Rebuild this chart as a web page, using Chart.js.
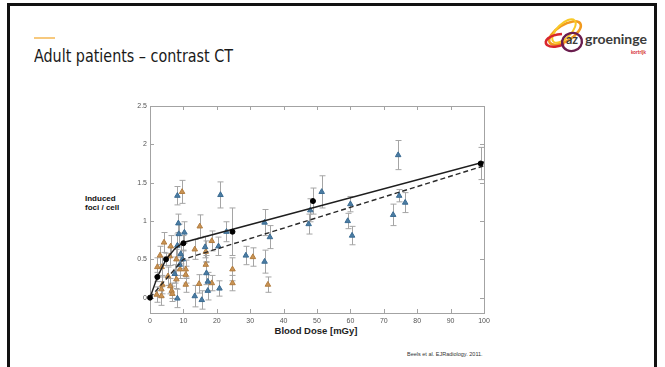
<!DOCTYPE html>
<html>
<head>
<meta charset="utf-8">
<script src="https://cdn.jsdelivr.net/npm/chart.js@4/dist/chart.umd.min.js"></script>
<style>
  html, body { margin: 0; padding: 0; background: #fff; overflow: hidden; }
  body { width: 665px; height: 367px; position: relative; }
  .slide { position: absolute; left: 7px; top: 3px; width: 650px; height: 420px; border: 3px solid #111; box-sizing: border-box; }
  .accent { position: absolute; left: 34px; top: 37px; width: 21px; height: 2px; background: #f7c97e; }
  .title { position: absolute; left: 34px; top: 47.6px; font: 17px/17px "DejaVu Sans Condensed", "DejaVu Sans", sans-serif; color: #1a1a1a; white-space: nowrap; transform-origin: 0 0; }
  .logo { position: absolute; left: 540px; top: 15px; }
  .ylabel { position: absolute; left: 85px; top: 195px; font: bold 8px/8.5px "Liberation Sans", Arial, sans-serif; color: #111; }
  .xlabel { position: absolute; left: 266px; width: 100px; top: 325px; text-align: center; font: bold 9.5px/11px "Liberation Sans", Arial, sans-serif; color: #222; }
  .cite { position: absolute; left: 407px; top: 351px; font: 5.5px/7px "Liberation Sans", Arial, sans-serif; color: #333; white-space: nowrap; }
  canvas { position: absolute; left: 0; top: 0; }
</style>
</head>
<body>
<div class="slide"></div>
<div class="accent"></div>
<div class="title" id="title">Adult patients – contrast CT</div>
<svg class="logo" width="115" height="50" viewBox="0 0 115 50">
  <ellipse cx="25" cy="18" rx="18" ry="8" transform="rotate(-32 25 18)" fill="none" stroke="#f29a1e" stroke-width="2.6"/>
  <ellipse cx="24" cy="16" rx="15" ry="7" transform="rotate(-45 24 16)" fill="none" stroke="#f8c928" stroke-width="2"/>
  <path d="M22 19 C 9 20, 3 26, 7 30 C 11 33, 19 32, 24 29" fill="none" stroke="#d8262d" stroke-width="2.6"/>
  <ellipse cx="32" cy="27" rx="10" ry="9" transform="rotate(-15 32 27)" fill="none" stroke="#6a1d4e" stroke-width="2.4"/>
  <text x="26" y="29" textLength="12" lengthAdjust="spacingAndGlyphs" font-family="Lato, 'Open Sans', sans-serif" font-weight="bold" font-size="13" fill="#3b3b3b">az</text>
  <text x="45" y="29" textLength="62" lengthAdjust="spacingAndGlyphs" font-family="Lato, 'Open Sans', sans-serif" font-weight="bold" font-size="13" fill="#3b3b3b">groeninge</text>
  <text x="91" y="38.5" textLength="15" lengthAdjust="spacingAndGlyphs" font-family="Lato, 'Open Sans', sans-serif" font-weight="bold" font-size="5.5" fill="#d3232b">kortrijk</text>
</svg>
<div class="ylabel">Induced<br>foci / cell</div>
<div class="xlabel">Blood Dose [mGy]</div>
<div class="cite">Beels et al. EJRadiology. 2011.</div>
<canvas id="myChart" width="665" height="367"></canvas>
<script>
// blue triangles (group 1)
const blueDose = [8.2, 8.5, 8.6, 10.3, 8.2, 9.2, 9.8, 8.9, 7.4, 8.2, 13.4, 15.5, 16.9, 16.5, 17.3, 17.3, 20.8, 21.1, 22.9, 20.5, 28.7, 34.3, 34.3, 35.9, 47.5, 48.0, 51.4, 59.2, 60.0, 60.5, 72.8, 74.3, 74.6, 76.4];
const blueFoci = [1.33, 0.97, 0.83, 0.85, 0.68, 0.57, 0.50, 0.43, 0.31, -0.01, 0.02, -0.03, 0.32, 0.66, 0.21, 0.09, 0.12, 1.34, 0.86, 0.67, 0.55, 0.98, 0.47, 0.79, 0.96, 1.14, 1.38, 1.00, 1.22, 0.81, 1.08, 1.86, 1.33, 1.24];
const blueErr  = [0.12, 0.12, 0.13, 0.14, 0.15, 0.13, 0.12, 0.14, 0.12, 0.12, 0.14, 0.12, 0.15, 0.14, 0.12, 0.12, 0.10, 0.17, 0.13, 0.12, 0.12, 0.17, 0.15, 0.15, 0.13, 0.15, 0.21, 0.10, 0.10, 0.12, 0.14, 0.19, 0.08, 0.13];

// orange triangles (group 2)
const orangeDose = [9.6, 4.2, 3.0, 2.2, 3.5, 2.0, 3.4, 3.7, 3.4, 5.9, 6.2, 5.4, 6.1, 6.5, 6.7, 7.9, 7.9, 9.0, 10.7, 10.7, 10.7, 13.4, 14.9, 14.7, 16.7, 16.7, 18.5, 18.5, 24.7, 24.7, 30.8, 35.3];
const orangeFoci = [1.38, 0.72, 0.55, 0.40, 0.40, 0.04, 0.02, 0.17, 0.11, 0.54, 0.67, 0.28, 0.15, 0.09, 0.05, 0.50, 0.24, 0.37, 0.37, 0.30, 0.17, 0.63, 0.93, 0.18, 0.60, 0.43, 0.74, 0.19, 0.19, 0.37, 0.53, 0.17];
const orangeErr  = [0.15, 0.13, 0.12, 0.12, 0.13, 0.10, 0.12, 0.12, 0.10, 0.12, 0.14, 0.12, 0.10, 0.10, 0.10, 0.13, 0.12, 0.12, 0.12, 0.11, 0.10, 0.13, 0.15, 0.12, 0.14, 0.12, 0.13, 0.10, 0.10, 0.15, 0.12, 0.10];

// in vitro calibration points
const meanDose = [0, 2.2, 4.8, 10, 24.7, 48.8, 99];
const meanFoci = [0, 0.27, 0.50, 0.71, 0.86, 1.26, 1.75];
const meanErr  = [0, 0.06, 0.08, 0.10, 0.31, 0.17, 0.21];

// fitted curves
const solidDose = [0, 2.2, 4.8, 7.5, 10, 100];
const solidFoci = [0, 0.27, 0.50, 0.64, 0.72, 1.77];
const dashDose = [0, 10, 100];
const dashFoci = [0, 0.50, 1.72];

const yTicks = [0, 0.5, 1, 1.5, 2, 2.5];

const pts = (xs, ys) => xs.map((v, i) => ({ x: v, y: ys[i] }));

// scale the title to its box width
const t = document.getElementById("title");
t.style.transform = "scaleX(" + (199 / t.getBoundingClientRect().width) + ")";

// frame with inward ticks + vertical error bars, drawn under the marks
const frameAndErrors = {
  id: "frameAndErrors",
  beforeDatasetsDraw(chart) {
    const { ctx, chartArea: a, scales: { x, y } } = chart;
    ctx.save();
    ctx.strokeStyle = "#a3a3a3";
    ctx.lineWidth = 1;
    ctx.strokeRect(Math.round(a.left) + 0.5, Math.round(a.top) + 0.5, Math.round(a.width), Math.round(a.height));
    ctx.beginPath();
    x.ticks.forEach((tk) => {
      const px = Math.round(x.getPixelForValue(tk.value)) + 0.5;
      ctx.moveTo(px, a.bottom); ctx.lineTo(px, a.bottom - 4);
      ctx.moveTo(px, a.top); ctx.lineTo(px, a.top + 4);
    });
    y.ticks.forEach((tk) => {
      const py = Math.round(y.getPixelForValue(tk.value)) + 0.5;
      ctx.moveTo(a.left, py); ctx.lineTo(a.left + 4, py);
      ctx.moveTo(a.right, py); ctx.lineTo(a.right - 4, py);
    });
    ctx.stroke();

    ctx.strokeStyle = "#a5a5a5";
    ctx.beginPath();
    chart.data.datasets.forEach((ds) => {
      if (!ds.errors) return;
      ds.data.forEach((p, j) => {
        const e = ds.errors[j];
        if (!e) return;
        const px = Math.round(x.getPixelForValue(p.x)) + 0.5;
        const top = y.getPixelForValue(p.y + e);
        const bot = y.getPixelForValue(p.y - e);
        ctx.moveTo(px, top); ctx.lineTo(px, bot);
        ctx.moveTo(px - 3, top); ctx.lineTo(px + 3, top);
        ctx.moveTo(px - 3, bot); ctx.lineTo(px + 3, bot);
      });
    });
    ctx.stroke();
    ctx.restore();
  },
};

const tickFont = { family: "Liberation Sans", size: 7 };

new Chart(document.getElementById("myChart"), {
  type: "scatter",
  data: {
    datasets: [
      {
        label: "calibration",
        data: pts(meanDose, meanFoci),
        errors: meanErr,
        pointStyle: "circle",
        pointRadius: 2.5,
        backgroundColor: "#000",
        borderColor: "#000",
        order: 0,
        clip: false,
      },
      {
        label: "fit 1",
        data: pts(solidDose, solidFoci),
        showLine: true,
        pointRadius: 0,
        borderColor: "#1e1e1e",
        borderWidth: 1.4,
        order: 1,
      },
      {
        label: "fit 2",
        data: pts(dashDose, dashFoci),
        showLine: true,
        pointRadius: 0,
        borderColor: "#2a2a2a",
        borderWidth: 1.4,
        borderDash: [5, 3],
        order: 1,
      },
      {
        label: "group 1",
        data: pts(blueDose, blueFoci),
        errors: blueErr,
        pointStyle: "triangle",
        pointRadius: 3.2,
        backgroundColor: "#4a7ca3",
        borderColor: "#3a6b92",
        borderWidth: 1,
        order: 2,
      },
      {
        label: "group 2",
        data: pts(orangeDose, orangeFoci),
        errors: orangeErr,
        pointStyle: "triangle",
        pointRadius: 3.2,
        backgroundColor: "#c99353",
        borderColor: "#b27d40",
        borderWidth: 1,
        order: 3,
      },
    ],
  },
  options: {
    responsive: false,
    animation: false,
    devicePixelRatio: 1,
    layout: { padding: { left: 110, top: 106, right: 181, bottom: 24 } },
    plugins: { legend: { display: false }, tooltip: { enabled: false } },
    scales: {
      x: {
        type: "linear",
        min: 0,
        max: 100,
        grid: { display: false, drawTicks: false },
        border: { display: false },
        ticks: { stepSize: 10, font: tickFont, color: "#555", padding: 4, maxRotation: 0 },
        afterFit: (s) => { s.height = 30; },
      },
      y: {
        type: "linear",
        min: -0.2,
        max: 2.5,
        grid: { display: false, drawTicks: false },
        border: { display: false },
        ticks: { font: tickFont, color: "#555", padding: 3, callback: (v) => String(v) },
        afterBuildTicks: (s) => { s.ticks = yTicks.map((v) => ({ value: v })); },
        afterFit: (s) => { s.width = 40; },
      },
    },
  },
  plugins: [frameAndErrors],
});
</script>
</body>
</html>
